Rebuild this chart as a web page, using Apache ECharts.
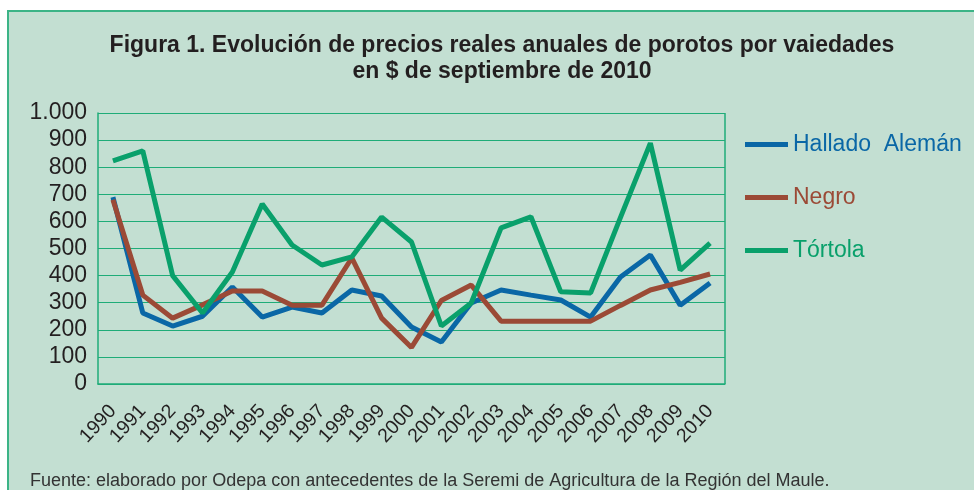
<!DOCTYPE html>
<html>
<head>
<meta charset="utf-8">
<script src="https://cdn.jsdelivr.net/npm/echarts@6/dist/echarts.min.js"></script>
<style>
  html, body { margin: 0; padding: 0; background: #fff; overflow: hidden; }
  #frame {
    position: absolute; left: 7px; top: 10px; width: 990px; height: 500px;
    background: #c3dfd2; border: 2px solid #3cb487;
  }
  #chart { position: absolute; left: 0; top: 0; width: 974px; height: 490px; }
</style>
</head>
<body>
<div id="frame"></div>
<div id="chart"></div>
<script>
// años
var years = ['1990', '1991', '1992', '1993', '1994', '1995', '1996', '1997', '1998', '1999', '2000',
  '2001', '2002', '2003', '2004', '2005', '2006', '2007', '2008', '2009', '2010']

// precios reales ($ de septiembre 2010)
var halladoAleman = [690, 262, 214, 250, 358, 247, 284, 262, 347, 325, 210,
  155, 299, 347, 328, 310, 247, 395, 476, 291, 373]
var negro = [680, 328, 243, 292, 343, 343, 291, 291, 465, 243, 135,
  308, 365, 232, 232, 232, 232, 290, 347, 375, 406]
var tortola = [823, 860, 400, 262, 413, 664, 513, 439, 469, 616, 524,
  214, 299, 576, 617, 340, 336, 615, 889, 420, 520]

var colors = ['#0a67a6', '#9b4a36', '#09a06b']
var gridGreen = '#1fac78'
var font = "'Liberation Sans', Arial, sans-serif"

var chart = echarts.init(document.getElementById('chart'))

function serie(name, data, color) {
  return {
    name: name,
    type: 'line',
    data: data,
    symbol: 'none',
    lineStyle: { color: color, width: 5 },
    itemStyle: { color: color },
    emphasis: { disabled: true }
  }
}

chart.setOption({
  animation: false,
  textStyle: { fontFamily: font },
  title: [{
    text: 'Figura 1. Evolución de precios reales anuales de porotos por vaiedades\nen $ de septiembre de 2010',
    left: 497,
    top: 28,
    textAlign: 'center',
    textStyle: { fontFamily: font, fontSize: 23, fontWeight: 'bold', color: '#231f20', lineHeight: 26 }
  }, {
    text: 'Fuente: elaborado por Odepa con antecedentes de la Seremi de Agricultura de la Región del Maule.',
    left: 25,
    top: 467,
    textStyle: { fontFamily: font, fontSize: 18, fontWeight: 'normal', color: '#333' }
  }],
  legend: {
    orient: 'vertical',
    left: 740,
    top: 128,
    itemWidth: 43,
    itemHeight: 5,
    itemGap: 30,
    icon: 'rect',
    selectedMode: false,
    textStyle: { fontFamily: font, fontSize: 23 },
    data: [
      { name: 'Hallado  Alemán', textStyle: { color: colors[0] } },
      { name: 'Negro', textStyle: { color: colors[1] } },
      { name: 'Tórtola', textStyle: { color: colors[2] } }
    ]
  },
  grid: { left: 98, right: 249, top: 113, bottom: 106 },
  xAxis: {
    type: 'category',
    data: years,
    axisLine: { lineStyle: { color: gridGreen, width: 1.5 } },
    axisTick: { length: 9, lineStyle: { color: gridGreen, width: 1.5 } },
    axisLabel: { rotate: 47, fontSize: 19.5, color: '#231f20', margin: 24, interval: 0 }
  },
  yAxis: {
    type: 'value',
    min: 0,
    max: 1000,
    interval: 100,
    axisLine: { show: true, lineStyle: { color: gridGreen, width: 1.5 } },
    axisTick: { show: false },
    splitLine: { lineStyle: { color: gridGreen, width: 1.2 } },
    axisLabel: {
      fontSize: 23, color: '#231f20', margin: 11,
      formatter: function (v) { return v === 1000 ? '1.000' : String(v) }
    }
  },
  graphic: [{
    type: 'line',
    shape: { x1: 725, y1: 113, x2: 725, y2: 384 },
    style: { stroke: gridGreen, lineWidth: 1.5 }
  }],
  series: [
    serie('Hallado  Alemán', halladoAleman, colors[0]),
    serie('Negro', negro, colors[1]),
    serie('Tórtola', tortola, colors[2])
  ]
})
</script>
</body>
</html>
